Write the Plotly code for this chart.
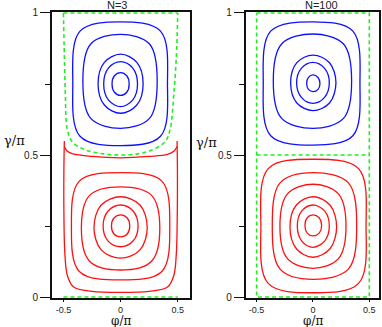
import plotly.graph_objects as go

# Colours
BLUE = '#1010ff'
RED = '#ff1010'
GREEN = '#22ee22'
AXIS = '#111111'

# ---- N=3 panel: closed orbits, listed top -> right -> bottom -> left -> top
n3_blue_x = [
    [0, 0.054, 0.075, 0.054, 0, -0.054, -0.075, -0.054, 0],
    [0, 0.105, 0.148, 0.105, 0, -0.105, -0.148, -0.105, 0],
    [0, 0.142, 0.197, 0.142, 0, -0.142, -0.197, -0.142, 0],
    [0, 0.253, 0.32, 0.253, 0, -0.261, -0.33, -0.261, 0],
    [0, 0.349, 0.41, 0.349, 0, -0.355, -0.418, -0.355, 0],
]
n3_blue_y = [
    [0.79, 0.779, 0.75, 0.721, 0.71, 0.721, 0.75, 0.779, 0.79],
    [0.829, 0.807, 0.75, 0.693, 0.67, 0.693, 0.75, 0.807, 0.829],
    [0.855, 0.826, 0.751, 0.676, 0.647, 0.676, 0.751, 0.826, 0.855],
    [0.925, 0.891, 0.76, 0.629, 0.594, 0.629, 0.76, 0.891, 0.925],
    [0.969, 0.936, 0.751, 0.566, 0.533, 0.566, 0.751, 0.936, 0.969],
]
n3_red_x = [
    [0, 0.058, 0.08, 0.058, 0, -0.058, -0.08, -0.058, 0],
    [0, 0.109, 0.153, 0.109, 0, -0.109, -0.153, -0.109, 0],
    [0, 0.17, 0.233, 0.17, 0, -0.17, -0.233, -0.17, 0],
    [0, 0.271, 0.343, 0.271, 0, -0.271, -0.343, -0.271, 0],
    [0, 0.361, 0.43, 0.361, 0, -0.361, -0.43, -0.361, 0],
]
n3_red_y = [
    [0.289, 0.278, 0.25, 0.222, 0.212, 0.222, 0.25, 0.278, 0.289],
    [0.324, 0.303, 0.25, 0.197, 0.177, 0.197, 0.25, 0.303, 0.324],
    [0.353, 0.324, 0.245, 0.166, 0.137, 0.166, 0.245, 0.324, 0.353],
    [0.388, 0.358, 0.242, 0.126, 0.095, 0.126, 0.242, 0.358, 0.388],
    [0.438, 0.408, 0.249, 0.09, 0.06, 0.09, 0.249, 0.408, 0.438],
]
# outer red orbit of N=3 (U shape with cusps) and its top arc
n3_red_u_x = [-0.492, -0.496, -0.496, -0.487, -0.465, -0.41, -0.25, 0,
              0.25, 0.41, 0.465, 0.487, 0.496, 0.497, 0.494]
n3_red_u_y = [0.549, 0.45, 0.3, 0.15, 0.075, 0.035, 0.02, 0.016,
              0.02, 0.035, 0.075, 0.15, 0.3, 0.45, 0.549]
n3_red_arc_x = [-0.492, -0.468, -0.424, -0.25, 0, 0.25, 0.41, 0.468, 0.494]
n3_red_arc_y = [0.53, 0.514, 0.505, 0.495, 0.49, 0.495, 0.502, 0.514, 0.53]
# separatrix (green dashed)
n3_sep_x = [-0.5, -0.492, -0.483, -0.468, -0.424, -0.308, -0.15, 0,
            0.15, 0.275, 0.39, 0.435, 0.465, 0.488, 0.5]
n3_sep_y = [1.0, 0.85, 0.711, 0.594, 0.547, 0.518, 0.504, 0.5,
            0.504, 0.518, 0.547, 0.594, 0.711, 0.85, 1.0]
n3_sep_lines_x = [-0.5, 0.5, None, -0.5, 0.5]
n3_sep_lines_y = [1, 1, None, 0, 0]

# ---- N=100 panel
n100_blue_x = [
    [0, 0.045, 0.062, 0.045, 0, -0.04, -0.056, -0.04, 0],
    [0, 0.103, 0.145, 0.103, 0, -0.103, -0.145, -0.103, 0],
    [0, 0.147, 0.204, 0.147, 0, -0.143, -0.198, -0.143, 0],
    [0, 0.271, 0.343, 0.271, 0, -0.278, -0.352, -0.278, 0],
    [0, 0.354, 0.417, 0.354, 0, -0.375, -0.441, -0.375, 0],
]
n100_blue_y = [
    [0.782, 0.773, 0.752, 0.731, 0.723, 0.731, 0.752, 0.773, 0.782],
    [0.826, 0.805, 0.754, 0.703, 0.682, 0.703, 0.754, 0.805, 0.826],
    [0.852, 0.825, 0.754, 0.683, 0.656, 0.683, 0.754, 0.825, 0.852],
    [0.926, 0.891, 0.76, 0.629, 0.594, 0.629, 0.76, 0.891, 0.926],
    [0.969, 0.936, 0.752, 0.568, 0.535, 0.568, 0.752, 0.936, 0.969],
]
n100_red_x = [
    [0, 0.055, 0.077, 0.055, 0, -0.051, -0.071, -0.051, 0],
    [0, 0.103, 0.145, 0.103, 0, -0.099, -0.139, -0.099, 0],
    [0, 0.151, 0.21, 0.151, 0, -0.147, -0.204, -0.147, 0],
    [0, 0.226, 0.293, 0.226, 0, -0.226, -0.293, -0.226, 0],
    [0, 0.314, 0.388, 0.314, 0, -0.292, -0.361, -0.292, 0],
    [0, 0.405, 0.471, 0.405, 0, -0.397, -0.462, -0.397, 0],
]
n100_red_y = [
    [0.289, 0.279, 0.252, 0.225, 0.215, 0.225, 0.252, 0.279, 0.289],
    [0.324, 0.303, 0.25, 0.197, 0.175, 0.197, 0.25, 0.303, 0.324],
    [0.353, 0.324, 0.247, 0.17, 0.14, 0.17, 0.247, 0.324, 0.353],
    [0.397, 0.363, 0.249, 0.135, 0.101, 0.135, 0.249, 0.363, 0.397],
    [0.438, 0.402, 0.25, 0.098, 0.062, 0.098, 0.25, 0.402, 0.438],
    [0.485, 0.452, 0.25, 0.048, 0.015, 0.048, 0.25, 0.452, 0.485],
]
n100_sep_x = [-0.5, 0.5, 0.5, -0.5, -0.5, None, -0.5, 0.5]
n100_sep_y = [1, 1, 0, 0, 1, None, 0.5, 0.5]

x_ticks = [-0.5, 0, 0.5]
x_labels = ['-0.5', '0', '0.5']
y_ticks = [0, 0.5, 1]
y_labels = ['0', '0.5', '1']


def curve(x, y, color, xa, ya, spline=True, dash=None, width=1.3):
    return go.Scatter(
        x=x, y=y, mode='lines', xaxis=xa, yaxis=ya,
        line=dict(color=color, width=width, dash=dash,
                  shape='spline' if spline else 'linear', smoothing=1),
        hoverinfo='skip', showlegend=False,
    )


fig = go.Figure()

# panel N=3
for xs, ys in zip(n3_blue_x, n3_blue_y):
    fig.add_trace(curve(xs, ys, BLUE, 'x', 'y'))
for xs, ys in zip(n3_red_x, n3_red_y):
    fig.add_trace(curve(xs, ys, RED, 'x', 'y'))
fig.add_trace(curve(n3_red_u_x, n3_red_u_y, RED, 'x', 'y'))
fig.add_trace(curve(n3_red_arc_x, n3_red_arc_y, RED, 'x', 'y'))
fig.add_trace(curve(n3_sep_x, n3_sep_y, GREEN, 'x', 'y', dash='4px,3px', width=1.6))
fig.add_trace(curve(n3_sep_lines_x, n3_sep_lines_y, GREEN, 'x', 'y',
                    spline=False, dash='4px,3px', width=1.6))

# panel N=100
for xs, ys in zip(n100_blue_x, n100_blue_y):
    fig.add_trace(curve(xs, ys, BLUE, 'x2', 'y2'))
for xs, ys in zip(n100_red_x, n100_red_y):
    fig.add_trace(curve(xs, ys, RED, 'x2', 'y2'))
fig.add_trace(curve(n100_sep_x, n100_sep_y, GREEN, 'x2', 'y2',
                    spline=False, dash='4px,3px', width=1.6))

tick_font = dict(family='Liberation Sans, Arial, sans-serif', size=10, color='#222')
xtick_font = dict(family='Liberation Sans, Arial, sans-serif', size=9, color='#222')
label_font = dict(family='DejaVu Serif, serif', size=13, color='#111')
xlabel_font = dict(family='DejaVu Serif, serif', size=12, color='#111')
title_font = dict(family='Liberation Sans, Arial, sans-serif', size=11, color='#222')

xaxis_common = dict(
    tickmode='array', tickvals=x_ticks, ticktext=x_labels,
    ticks='outside', ticklen=2, tickwidth=1, tickcolor=AXIS,
    showline=True, linecolor=AXIS, linewidth=1.5, mirror=True,
    showgrid=False, zeroline=False, tickfont=xtick_font, layer='below traces',
    automargin=False,
)
yaxis_common = dict(
    tickmode='array', tickvals=y_ticks, ticktext=y_labels,
    range=[-0.0035, 1.0035], domain=[0, 1],
    ticks='outside', ticklen=10, tickwidth=1, tickcolor=AXIS,
    minor=dict(tickvals=[0.25, 0.75], ticks='outside', ticklen=5, tickcolor=AXIS),
    showline=True, linecolor=AXIS, linewidth=2, mirror=True,
    showgrid=False, zeroline=False, tickfont=tick_font, layer='below traces',
    automargin=False,
)


def note(text, x, y, font):
    return dict(text=text, x=x, y=y, xref='paper', yref='paper', borderpad=0,
                xanchor='center', yanchor='middle', showarrow=False, font=font)


fig.update_layout(
    width=382, height=327,
    margin=dict(l=52, r=3, t=12, b=29),
    paper_bgcolor='white', plot_bgcolor='white',
    showlegend=False,
    xaxis=dict(domain=[0, 0.422], range=[-0.6, 0.607], anchor='y', **xaxis_common),
    yaxis=dict(anchor='x', **yaxis_common),
    xaxis2=dict(domain=[0.593, 1], range=[-0.595, 0.586], anchor='y2', **xaxis_common),
    yaxis2=dict(anchor='x2', **yaxis_common),
    annotations=[
        note('N=3', 0.199, 1.024, title_font),
        note('N=100', 0.823, 1.024, title_font),
        note('γ/π', -0.116, 0.549, label_font),
        note('γ/π', 0.474, 0.542, label_font),
        note('φ/π', 0.211, -0.079, xlabel_font),
        note('φ/π', 0.798, -0.079, xlabel_font),
    ],
)

# drop the default 8px page margin so the figure sits at the window corner
fig.write_html('out.html', config={'displayModeBar': False},
               post_script="document.body.style.margin = '0';")
